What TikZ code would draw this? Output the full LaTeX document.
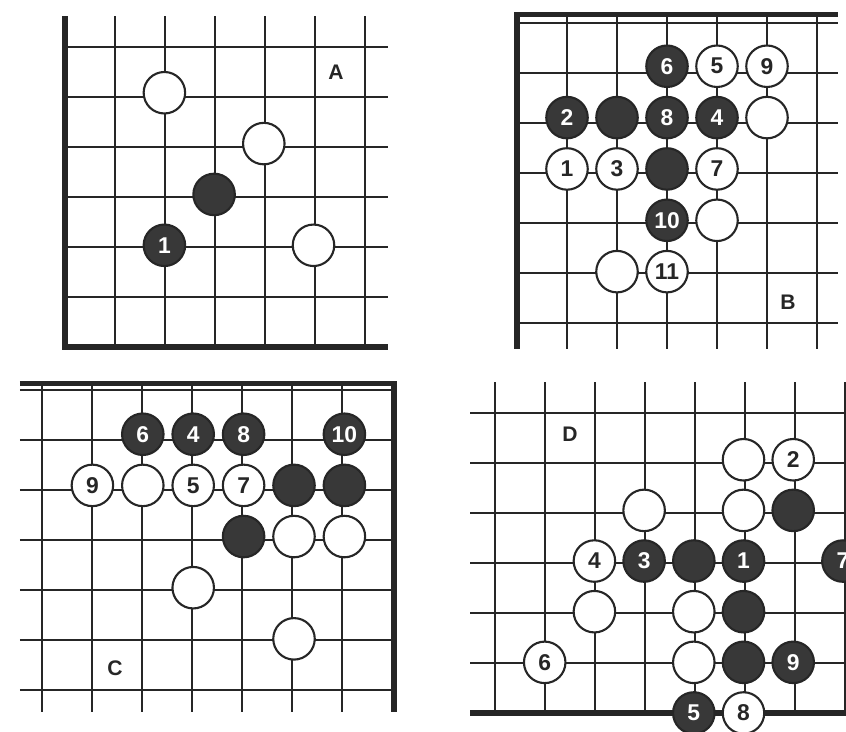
\documentclass[tikz,border=0pt]{standalone}
\usepackage{fontspec}
\setsansfont{Liberation Sans}
\usepackage{tikz}

\begin{document}
\begin{tikzpicture}[
  gridline/.style={black!85,line width=1.6pt},
  edge/.style={black!85,line width=2.9pt},
  stone/.style={circle,draw=black!85,line width=1.2pt,minimum size=8.3mm,inner sep=0pt,font=\sffamily\bfseries\fontsize{13}{13}\selectfont},
  bstone/.style={stone,fill=black!78,text=white},
  wstone/.style={stone,fill=white,text=black!85},
  panel/.style={font=\sffamily\bfseries\fontsize{12}{12}\selectfont,text=black!85}]
\useasboundingbox (0,0) rectangle (16.92,14.64);

% A
\begin{scope}[shift={(1.30,7.70)},x=0.994cm,y=1.017cm]
\draw[gridline] (0,0) grid (6.5,6.5);
\draw[edge] (0,6.5) -- (0,0) -- (6.5,0);
\node[wstone] (aw1) at (2,5) {};
\node[wstone] (aw2) at (4,4) {};
\node[bstone] (ab1) at (3,3) {};
\node[bstone] (a1) at (2,2) {1};
\node[wstone] (aw3) at (5,2) {};
\node[panel] (labA) at (5.45,5.4) {A};
\end{scope}

% B
\begin{scope}[shift={(10.34,8.18)},x=1cm,y=1.027cm]
\draw[gridline] (0,-0.5) grid (6.42,6);
\draw[edge] (0,-0.5) -- (0,6) -- (6.42,6);
\node[bstone] (b6) at (3,5) {6};
\node[wstone] (b5) at (4,5) {5};
\node[wstone] (b9) at (5,5) {9};
\node[bstone] (b2) at (1,4) {2};
\node[bstone] (bb1) at (2,4) {};
\node[bstone] (b8) at (3,4) {8};
\node[bstone] (b4) at (4,4) {4};
\node[wstone] (bw1) at (5,4) {};
\node[wstone] (b1) at (1,3) {1};
\node[wstone] (b3) at (2,3) {3};
\node[bstone] (bb2) at (3,3) {};
\node[wstone] (b7) at (4,3) {7};
\node[bstone] (b10) at (3,2) {10};
\node[wstone] (bw2) at (4,2) {};
\node[wstone] (bw3) at (2,1) {};
\node[wstone] (b11) at (3,1) {11};
\node[panel] (labB) at (5.42,0.41) {B};
\end{scope}

% C
\begin{scope}[shift={(0.84,0.84)},x=1.008cm,y=1.023cm]
\draw[gridline] (-0.44,-0.43) grid (7,6);
\draw[edge] (-0.44,6) -- (7,6) -- (7,-0.43);
\node[bstone] (c6) at (2,5) {6};
\node[bstone] (c4) at (3,5) {4};
\node[bstone] (c8) at (4,5) {8};
\node[bstone] (c10) at (6,5) {10};
\node[wstone] (c9) at (1,4) {9};
\node[wstone] (cw1) at (2,4) {};
\node[wstone] (c5) at (3,4) {5};
\node[wstone] (c7) at (4,4) {7};
\node[bstone] (cb1) at (5,4) {};
\node[bstone] (cb2) at (6,4) {};
\node[bstone] (cb3) at (4,3) {};
\node[wstone] (cw2) at (5,3) {};
\node[wstone] (cw3) at (6,3) {};
\node[wstone] (cw4) at (3,2) {};
\node[wstone] (cw5) at (5,1) {};
\node[panel] (labC) at (1.45,0.43) {C};
\end{scope}

% D
\begin{scope}[shift={(9.90,0.38)},x=0.994cm,y=1.013cm]
\draw[gridline] (-0.5,0) grid (7.2,6.53);
\draw[edge] (-0.5,0) -- (7.2,0);
\node[wstone] (dw1) at (5,5) {};
\node[wstone] (d2) at (6,5) {2};
\node[wstone] (dw2) at (3,4) {};
\node[wstone] (dw3) at (5,4) {};
\node[bstone] (db1) at (6,4) {};
\node[wstone] (d4) at (2,3) {4};
\node[bstone] (d3) at (3,3) {3};
\node[bstone] (db2) at (4,3) {};
\node[bstone] (d1) at (5,3) {1};
\node[bstone] (d7) at (7,3) {7};
\node[wstone] (dw4) at (2,2) {};
\node[wstone] (dw5) at (4,2) {};
\node[bstone] (db3) at (5,2) {};
\node[wstone] (d6) at (1,1) {6};
\node[wstone] (dw6) at (4,1) {};
\node[bstone] (db4) at (5,1) {};
\node[bstone] (d9) at (6,1) {9};
\node[bstone] (d5) at (4,0) {5};
\node[wstone] (d8) at (5,0) {8};
\node[panel] (labD) at (1.51,5.5) {D};
\end{scope}
\end{tikzpicture}
\end{document}
